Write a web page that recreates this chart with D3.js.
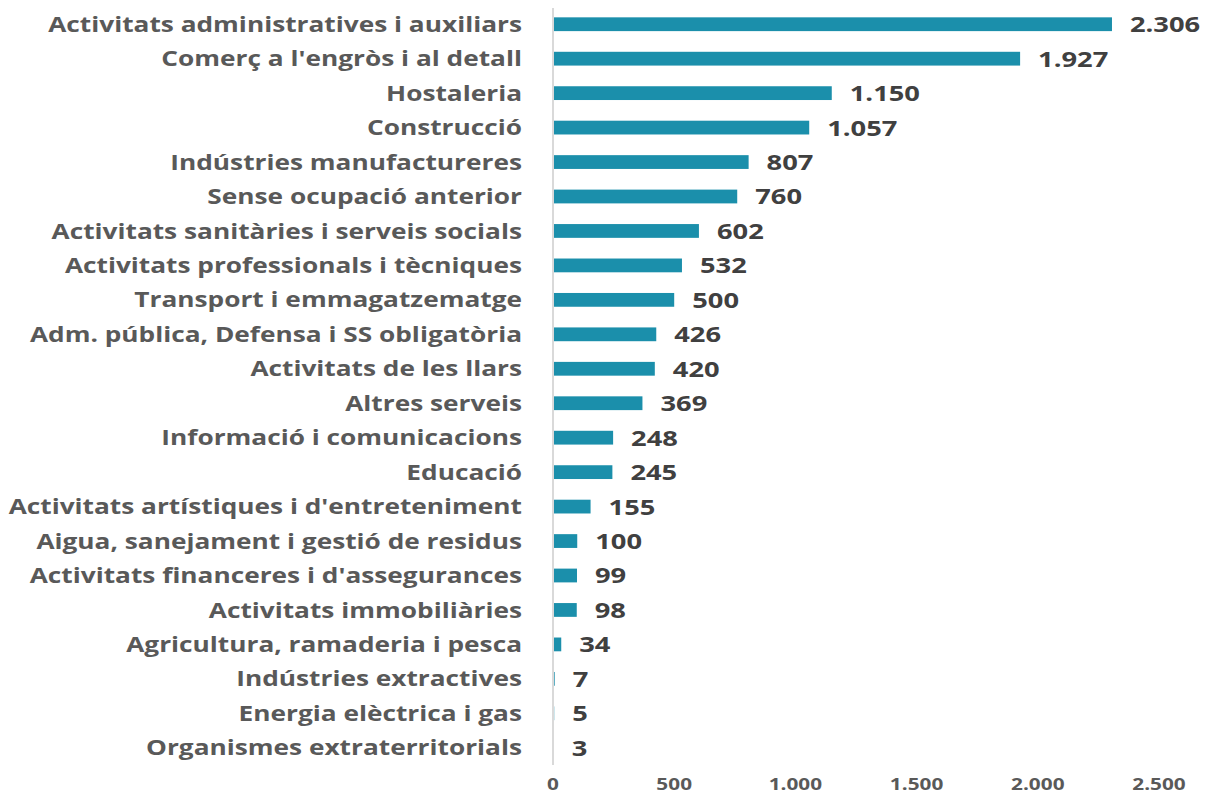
<!DOCTYPE html>
<html><head><meta charset="utf-8">
<script src="https://cdn.jsdelivr.net/npm/d3@7"></script>
<style>body{margin:0;background:#fff;}</style>
</head><body>
<svg id="chart" width="1206" height="799"></svg>
<script>
const categories = [
"Activitats administratives i auxiliars","Comerç a l'engròs i al detall","Hostaleria","Construcció",
"Indústries manufactureres","Sense ocupació anterior","Activitats sanitàries i serveis socials",
"Activitats professionals i tècniques","Transport i emmagatzematge","Adm. pública, Defensa i SS obligatòria",
"Activitats de les llars","Altres serveis","Informació i comunicacions","Educació",
"Activitats artístiques i d'entreteniment","Aigua, sanejament i gestió de residus",
"Activitats financeres i d'assegurances","Activitats immobiliàries","Agricultura, ramaderia i pesca",
"Indústries extractives","Energia elèctrica i gas","Organismes extraterritorials"];
const values = [2306,1927,1150,1057,807,760,602,532,500,426,420,369,248,245,155,100,99,98,34,7,5,3];
const tickValues = [0,500,1000,1500,2000,2500];

const svg = d3.select("#chart");
const x0 = 553, x1 = 1159;
const x = d3.scaleLinear().domain([0,2500]).range([x0,x1]);
const y = d3.scaleBand().domain(categories).range([7,765]).paddingInner(0.6).paddingOuter(0.3);
const fmt = d3.formatLocale({decimal:",",thousands:".",grouping:[3],currency:["",""]}).format(",d");
const SX = 1.25;

svg.append("g").selectAll("rect").data(values).join("rect")
  .attr("x", x(0)).attr("y",(d,i)=>y(categories[i]))
  .attr("width", d=>x(d)-x(0)).attr("height", y.bandwidth())
  .attr("fill","#1b8fab");

svg.append("line").attr("x1",x0).attr("x2",x0).attr("y1",8).attr("y2",765)
  .attr("stroke","#d9d9d9").attr("stroke-width",2);

svg.append("g").selectAll("text").data(categories).join("text")
  .attr("transform",d=>`translate(522,${y(d)+y.bandwidth()/2}) scale(${SX},1)`)
  .attr("dy","0.36em")
  .attr("text-anchor","end").attr("font-family","Open Sans").attr("font-weight","bold")
  .attr("font-size",21).attr("fill","#595959").text(d=>d);

svg.append("g").selectAll("text").data(values).join("text")
  .attr("transform",(d,i)=>`translate(${x(d)+18},${y(categories[i])+y.bandwidth()/2}) scale(1.3,1)`)
  .attr("dy","0.38em")
  .attr("font-family","Open Sans").attr("font-weight","bold")
  .attr("font-size",21).attr("fill","#404040").text(d=>fmt(d));

const ax = svg.append("g").attr("transform","translate(0,787)")
  .call(d3.axisBottom(x).tickValues(tickValues).tickSize(0).tickFormat(d=>fmt(d)));
ax.select(".domain").remove();
ax.selectAll(".tick").attr("transform",d=>`translate(${x(d)},0) scale(1.3,1)`);
ax.selectAll("text").attr("font-family","Open Sans").attr("font-weight","bold")
  .attr("font-size",16).attr("fill","#595959").attr("dy","0");
</script>
</body></html>
